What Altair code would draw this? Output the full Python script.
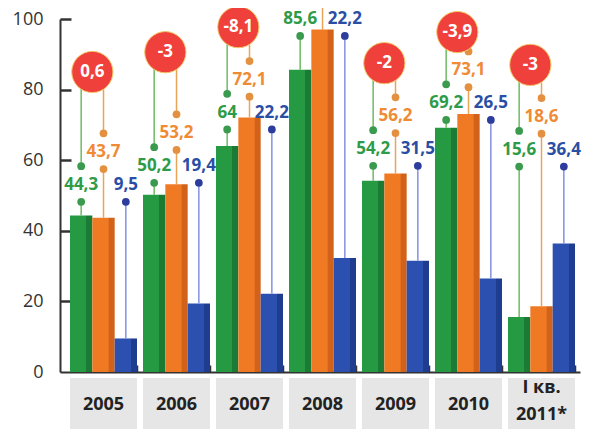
import altair as alt
import pandas as pd

categories = ["2005", "2006", "2007", "2008", "2009", "2010", "I кв.\n2011*"]
series_names = ["green", "orange", "blue"]

green_vals = [44.3, 50.2, 64.0, 85.6, 54.2, 69.2, 15.6]
orange_vals = [43.7, 53.2, 72.1, 97.0, 56.2, 73.1, 18.6]
blue_vals = [9.5, 19.4, 22.2, 32.3, 31.5, 26.5, 36.4]

green_text = ["44,3", "50,2", "64", "85,6", "54,2", "69,2", "15,6"]
orange_text = ["43,7", "53,2", "72,1", "", "56,2", "73,1", "18,6"]
blue_text = ["9,5", "19,4", "22,2", "22,2", "31,5", "26,5", "36,4"]
balance_text = ["0,6", "-3", "-8,1", "", "-2", "-3,9", "-3"]

y_ticks = [0, 20, 40, 60, 80, 100]

# layout (annotation levels in axis units)
label_level = [53.0, 58.4, 73.5, 100.0, 63.2, 76.2, 63.0]
circle_level = [85.0, 90.6, 97.7, 125.0, 87.5, 96.3, 87.0]

FONT = "Open Sans"
W, H = 520, 353

colors = {
    "green": ("#259a42", "#1b7a34", "#6dbb62", "#3a9a4e", "#2e9b48"),
    "orange": ("#f07a24", "#d2621a", "#eaa458", "#e39140", "#ef8b35"),
    "blue": ("#2b50b0", "#1e3d8f", "#8391e0", "#2d3d9e", "#2b4ea5"),
}

df = pd.DataFrame({
    "cat": categories,
    "green": green_vals, "orange": orange_vals, "blue": blue_vals,
    "green_t": green_text, "orange_t": orange_text, "blue_t": blue_text,
    "bal": balance_text, "A": label_level, "C": circle_level,
})
df["green_lab"] = df["A"]
df["green_lo"] = df["A"] - 4.8
df["green_hi"] = df["A"] + 5.3
df["orange_lab"] = df["A"] + 9.3
df["orange_lo"] = df["A"] + 4.5
df["orange_hi"] = df["A"] + 14.6
df["blue_lab"] = df["A"]
df["blue_lo"] = df["A"] - 4.8

long = pd.DataFrame({
    "cat": categories * 3,
    "series": sum([[s] * len(categories) for s in series_names], []),
    "value": green_vals + orange_vals + blue_vals,
})

xscale = alt.Scale(domain=categories, paddingInner=0.082, paddingOuter=0.1027, align=0.667)
xaxis = alt.Axis(labels=False, ticks=False, title=None, domain=True,
                 domainColor="#333333", domainWidth=2)


def X(bp=0.5):
    return alt.X("cat:N", sort=categories, scale=xscale, axis=xaxis, bandPosition=bp)


yscale = alt.Scale(domain=[0, 100], nice=False, zero=True)
yaxis = alt.Axis(values=y_ticks, ticks=False, grid=False, title=None, domain=True,
                 domainColor="#333333", domainWidth=2, labelPadding=17,
                 labelFontSize=18, labelFont=FONT, labelColor="#333333")


def Y(field):
    return alt.Y(field, type="quantitative", scale=yscale, axis=yaxis)


base = alt.Chart(df)
layers = []

# category boxes
layers.append(base.mark_bar(color="#e6e6e6").encode(
    x=X(), y=alt.value(359), y2=alt.value(415)))
one_line = base.transform_filter("indexof(datum.cat, '\\n') < 0")
two_line = base.transform_filter("indexof(datum.cat, '\\n') >= 0")
txt_kw = dict(font=FONT, fontWeight="bold", fontSize=18, color="#222222",
              lineBreak="\n", lineHeight=27, baseline="middle")
layers.append(one_line.mark_text(**txt_kw).encode(x=X(), y=alt.value(386), text="cat:N"))
layers.append(two_line.mark_text(**txt_kw).encode(x=X(), y=alt.value(369), text="cat:N"))

# bars
offs = alt.XOffset("series:N", scale=alt.Scale(domain=series_names, paddingInner=0))
for s in series_names:
    base_c, dark, _, _, _ = colors[s]
    grad = alt.Gradient(gradient="linear", x1=0, x2=1, y1=0, y2=0, stops=[
        alt.GradientStop(offset=0, color=base_c),
        alt.GradientStop(offset=0.72, color=base_c),
        alt.GradientStop(offset=0.73, color=dark),
        alt.GradientStop(offset=1, color=dark),
    ])
    layers.append(alt.Chart(long[long.series == s]).mark_bar(color=grad).encode(
        x=X(), xOffset=offs, y=Y("value")))

bps = {"green": 1 / 6, "orange": 0.5, "blue": 5 / 6}
for s in series_names:
    _, _, line_c, dot_c, text_c = colors[s]
    bp = bps[s]
    layers.append(base.mark_rule(color=line_c, strokeWidth=1.5).encode(
        x=X(bp), y=Y(s), y2=alt.Y2(f"{s}_lo")))
    if s != "blue":
        layers.append(base.mark_rule(color=line_c, strokeWidth=1.5).encode(
            x=X(bp), y=Y(f"{s}_hi"), y2=alt.Y2("C")))
        layers.append(base.mark_circle(color=dot_c, size=60, opacity=1).encode(
            x=X(bp), y=Y(f"{s}_hi")))
    layers.append(base.mark_circle(color=dot_c, size=60, opacity=1).encode(
        x=X(bp), y=Y(f"{s}_lo")))
    layers.append(base.mark_text(font=FONT, fontWeight="bold", fontSize=17, color=text_c,
                                 baseline="middle").encode(
        x=X(bp), y=Y(f"{s}_lab"), text=f"{s}_t:N"))

# balance circles
circ = base.transform_filter("datum.bal != ''")
layers.append(circ.mark_circle(color="#f0403c", size=1700, opacity=1,
                               stroke="#f3c96a", strokeWidth=1).encode(
    x=X(1 / 3), y=Y("C")))
layers.append(circ.mark_text(font=FONT, fontWeight="bold", fontSize=17, color="white",
                             baseline="middle").encode(
    x=X(1 / 3), y=Y("C"), text="bal:N"))

main = alt.layer(*layers)

# inward-pointing ticks, drawn by two extra axes placed on the plot edges
tick_axis_y = alt.Axis(orient="right", offset=-W, values=y_ticks[1:], tickSize=11,
                       tickWidth=2.5, tickColor="#333333", labels=False, domain=False,
                       grid=False, title=None)
tick_axis_x = alt.Axis(orient="top", offset=-H, bandPosition=1, tickSize=7,
                       tickWidth=1.5, tickColor="#333333", labels=False, domain=False,
                       grid=False, title=None)
tick_layer = base.mark_point(opacity=0).encode(
    x=alt.X("cat:N", sort=categories, scale=xscale, axis=tick_axis_x),
    y=alt.Y("green:Q", scale=yscale, axis=tick_axis_y),
)

chart = alt.layer(main, tick_layer).resolve_axis(x="independent", y="independent").properties(
    width=W, height=H,
    autosize=alt.AutoSizeParams(type="none"),
    padding={"left": 52, "top": 11, "right": 5, "bottom": 57},
).configure_view(stroke=None)

chart.save("out.html", embed_options={"renderer": "svg", "actions": False})
